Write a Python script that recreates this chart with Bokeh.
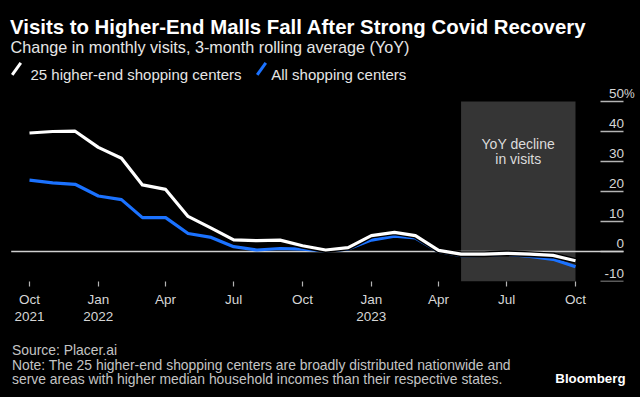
import pandas as pd
from bokeh.plotting import figure
from bokeh.layouts import column
from bokeh.models import Range1d, FixedTicker, BoxAnnotation, Label, ColumnDataSource
from bokeh.core.properties import value
from bokeh.embed import file_html
from bokeh.resources import INLINE

# ---------------- data ----------------
months = ["2021-10-01", "2021-11-01", "2021-12-01", "2022-01-01", "2022-02-01",
          "2022-03-01", "2022-04-01", "2022-05-01", "2022-06-01", "2022-07-01",
          "2022-08-01", "2022-09-01", "2022-10-01", "2022-11-01", "2022-12-01",
          "2023-01-01", "2023-02-01", "2023-03-01", "2023-04-01", "2023-05-01",
          "2023-06-01", "2023-07-01", "2023-08-01", "2023-09-01", "2023-10-01"]
higher_end = [39.5, 40.0, 40.1, 34.7, 31.1, 22.2, 20.7, 11.7, 7.8, 3.9,
              3.6, 3.8, 1.9, 0.5, 1.3, 5.3, 6.4, 5.3, 0.4, -0.9,
              -0.9, -0.6, -0.9, -1.3, -3.1]
all_centers = [23.8, 22.9, 22.4, 18.5, 17.3, 11.3, 11.3, 6.0, 4.7, 1.6,
               0.5, 1.0, 0.8, 0.2, 0.8, 3.8, 5.1, 4.5, 0.0, -1.4,
               -1.3, -0.9, -1.6, -2.6, -5.1]
series_names = ["25 higher-end shopping centers", "All shopping centers"]

y_ticks = [-10, 0, 10, 20, 30, 40, 50]
y_tick_labels = ["-10", "0", "10", "20", "30", "40", "50"]
y_unit = "%"
x_ticks = ["2021-10-01", "2022-01-01", "2022-04-01", "2022-07-01", "2022-10-01",
           "2023-01-01", "2023-04-01", "2023-07-01", "2023-10-01"]
x_tick_labels = ["Oct\n2021", "Jan\n2022", "Apr", "Jul", "Oct",
                 "Jan\n2023", "Apr", "Jul", "Oct"]
decline_start = "2023-05-01"
decline_end = "2023-10-01"
decline_lines = ["YoY decline", "in visits"]

title = "Visits to Higher-End Malls Fall After Strong Covid Recovery"
subtitle = "Change in monthly visits, 3-month rolling average (YoY)"
source = "Source: Placer.ai"
note_lines = ["Note: The 25 higher-end shopping centers are broadly distributed nationwide and",
              "serve areas with higher median household incomes than their respective states."]
brand = "Bloomberg"

# ---------------- styling ----------------
FONT = "Liberation Sans"
WHITE = "#ffffff"
BLUE = "#1b72ff"
BG = "#000000"
W, H1, H2 = 640, 340, 57
FRAME_BOTTOM = 281          # px from top of the chart figure
PX_PER_UNIT = 3.0
Y_TOP = -10 + FRAME_BOTTOM / PX_PER_UNIT


def ms(s):
    return pd.Timestamp(s).value / 1e6


px_per_day = 546 / 730.0
x_start = ms("2021-10-01") - 29 / px_per_day * 86400000
x_end = ms("2023-10-01") + 65 / px_per_day * 86400000


def xd(px):   # pixel column -> data x
    return x_start + px / W * (x_end - x_start)


def yd(py):   # pixel row -> data y
    return Y_TOP - py / PX_PER_UNIT


dates = pd.to_datetime(months)
src = ColumnDataSource(dict(date=dates, hi=higher_end, all=all_centers))

p = figure(width=W, height=H1, output_backend="svg", toolbar_location=None,
           x_axis_type="datetime", y_axis_location=None,
           x_range=Range1d(x_start, x_end), y_range=Range1d(-10, Y_TOP),
           min_border_left=0, min_border_right=0, min_border_top=0,
           min_border_bottom=H1 - FRAME_BOTTOM)
p.background_fill_color = BG
p.border_fill_color = BG
p.outline_line_color = None
p.grid.visible = False

# shaded decline period
p.add_layout(BoxAnnotation(left=ms(decline_start), right=ms(decline_end),
                           bottom=y_ticks[0], top=y_ticks[-1], fill_color="#353535",
                           fill_alpha=1, line_color=None, level="underlay"))
mid = (ms(decline_start) + ms(decline_end)) / 2
for i, t in enumerate(decline_lines):
    p.add_layout(Label(x=mid, y=yd(143.3 + 15 * i), text=t, text_align="center",
                       text_baseline="alphabetic", text_font=FONT,
                       text_font_size="14px", text_color="#dcdcdc"))

# y-axis stubs and zero line
p.segment(x0=[xd(600)] * len(y_ticks), x1=[xd(623)] * len(y_ticks),
          y0=y_ticks, y1=y_ticks, line_color="#b4b4b4", line_width=1.3)
p.segment(x0=[xd(10.7)], x1=[xd(623)], y0=[0], y1=[0], line_color="#cfcfcf",
          line_width=1.3)

# series
p.line("date", "all", source=src, line_color=BLUE, line_width=3.2,
       line_join="round")
p.line("date", "hi", source=src, line_color=BG, line_width=6, line_join="round")
p.line("date", "hi", source=src, line_color=WHITE, line_width=3.2,
       line_join="round")

# y tick labels (above the stubs, right-aligned)
p.text(x=[xd(623.5)] * len(y_ticks), y=y_ticks, text=y_tick_labels,
       text_align="right", text_baseline="alphabetic", y_offset=-8,
       text_font=value(FONT), text_font_size="13.5px", text_color="#d6d6d6")
p.text(x=[xd(623.5)], y=[y_ticks[-1]], text=[y_unit], text_align="left",
       text_baseline="alphabetic", y_offset=-8,
       text_font=value(FONT), text_font_size="12px", text_color="#d6d6d6")

# x axis
xa = p.xaxis[0]
xa.ticker = FixedTicker(ticks=[ms(t) for t in x_ticks])
xa.major_label_overrides = {ms(t): lab for t, lab in zip(x_ticks, x_tick_labels)}
xa.axis_line_color = None
xa.major_tick_in = 0
xa.major_tick_out = 5
xa.major_tick_line_color = "#b4b4b4"
xa.major_tick_line_width = 1.2
xa.minor_tick_line_color = None
xa.major_label_standoff = 5
xa.major_label_text_font = FONT
xa.major_label_text_font_size = "13.5px"
xa.major_label_text_color = "#d6d6d6"
xa.major_label_text_line_height = 1.18

# header: title, subtitle, legend
p.add_layout(Label(x=xd(9.5), y=yd(26), text=title, text_font=FONT,
                   text_font_style="bold", text_font_size="20.4px",
                   text_color=WHITE, text_baseline="alphabetic"))
p.add_layout(Label(x=xd(10), y=yd(46), text=subtitle, text_font=FONT,
                   text_font_size="16.2px", text_color="#e6e6e6",
                   text_baseline="alphabetic"))
legend_x = [(11.7, 30.0), (256.7, 270.7)]
for (sx, tx), name, col in zip(legend_x, series_names, [WHITE, BLUE]):
    p.segment(x0=[xd(sx)], y0=[yd(74.3)], x1=[xd(sx + 8.6)], y1=[yd(62.3)],
              line_color=col, line_width=3)
    p.add_layout(Label(x=xd(tx), y=yd(73.6), text=name, text_font=FONT,
                       text_font_size="15px", text_color="#e6e6e6",
                       text_baseline="alphabetic"))

# footer figure
f = figure(width=W, height=H2, output_backend="svg", toolbar_location=None,
           x_axis_location=None, y_axis_location=None,
           x_range=Range1d(0, W), y_range=Range1d(0, H2), min_border=0)
f.background_fill_color = BG
f.border_fill_color = BG
f.outline_line_color = None
f.grid.visible = False


def fy(py):   # page row -> footer data y
    return H1 + H2 - py


f.add_layout(Label(x=11.5, y=fy(357.3), text=source, text_font=FONT,
                   text_font_size="13.9px", text_color="#c4c4c4"))
for i, t in enumerate(note_lines):
    f.add_layout(Label(x=11.5, y=fy(372 + 14.6 * i), text=t, text_font=FONT,
                       text_font_size="13.9px", text_color="#c4c4c4"))
f.add_layout(Label(x=625, y=fy(385), text=brand, text_font=FONT,
                   text_font_style="bold", text_font_size="13.3px",
                   text_color=WHITE, text_align="right"))

layout = column(p, f, spacing=0)
html = file_html(layout, INLINE)
html = html.replace("</head>", "<style>html,body{background:#000000;}</style></head>", 1)
open("out.html", "w").write(html)
